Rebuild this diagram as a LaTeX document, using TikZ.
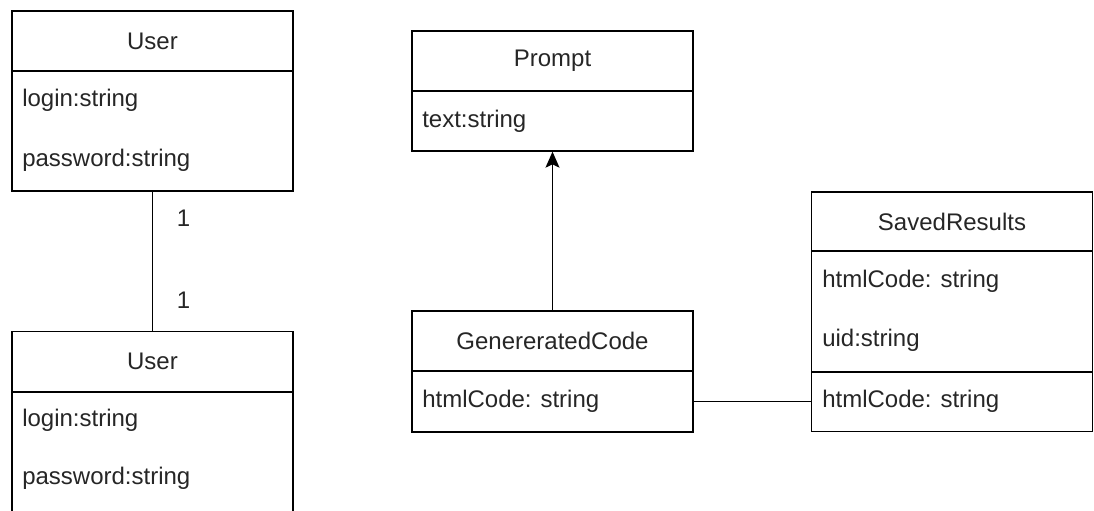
\documentclass[tikz,border=0pt]{standalone}
\usepackage{fontspec}
\setmainfont{Liberation Sans}
\usetikzlibrary{arrows.meta}
\tikzset{
  classbox/.style={shape=rectangle, draw, line width=1pt, minimum width=210.75pt, inner sep=0pt, font=\fontsize{18}{21}\selectfont},
  field/.style={anchor=west, inner sep=0pt, font=\fontsize{18}{21}\selectfont, text=black!85},
  mult/.style={inner sep=0pt, font=\fontsize{18}{21}\selectfont, text=black!85}
}
\begin{document}
\begin{tikzpicture}[x=0.75pt, y=-0.75pt]
\useasboundingbox (0, 0) rectangle (1094, 510);
% User (top)
\node[classbox, minimum height=45pt, text=black!85] (U1head) at (152.5, 41) {User};
\node[classbox, minimum height=90pt] (U1body) at (152.5, 131) {};
\node[field] (U1login) at (22, 100) {login:string};
\node[field] (U1pass) at (22, 160) {password:string};
% User (bottom)
\node[classbox, minimum height=45pt, text=black!85] (U2head) at (152.5, 361.5) {User};
\node[classbox, minimum height=97.5pt] (U2body) at (152.5, 457) {};
\node[field] (U2login) at (22, 420) {login:string};
\node[field] (U2pass) at (22, 478) {password:string};
% Prompt
\node[classbox, minimum height=45pt, text=black!85] (Phead) at (552.5, 61) {Prompt};
\node[classbox, minimum height=45pt] (Pbody) at (552.5, 121) {};
\node[field] (Ptext) at (422, 121) {text:string};
% GenereratedCode
\node[classbox, minimum height=45pt, text=black!85] (GChead) at (552.5, 341) {GenereratedCode};
\node[classbox, minimum height=45.75pt] (GCbody) at (552.5, 401.5) {};
\node[field] (GChtml) at (422, 401) {htmlCode: string};
% SavedResults
\node[classbox, minimum height=44.25pt, text=black!85] (SRhead) at (952, 221.5) {SavedResults};
\node[classbox, minimum height=90.75pt] (SRbody) at (952, 311.5) {};
\node[classbox, minimum height=45pt] (SRlast) at (952, 401.5) {};
\node[field] (SRhtml) at (822, 281) {htmlCode: string};
\node[field] (SRuid) at (822, 340) {uid:string};
\node[field] (SRhtml2) at (822, 401) {htmlCode: string};
% connectors
\draw[line width=1pt] (U1body.south) -- (U2head.north)
  node[mult, pos=0.19, xshift=23.25pt] {1}
  node[mult, pos=0.78, xshift=23.25pt] {1};
\draw[-{Stealth[length=12pt, width=10.5pt, inset=2.5pt]}, line width=1pt] (GChead.north) -- (Pbody.south);
\draw[line width=1pt] (GCbody.east) -- (SRlast.west);
\end{tikzpicture}
\end{document}
